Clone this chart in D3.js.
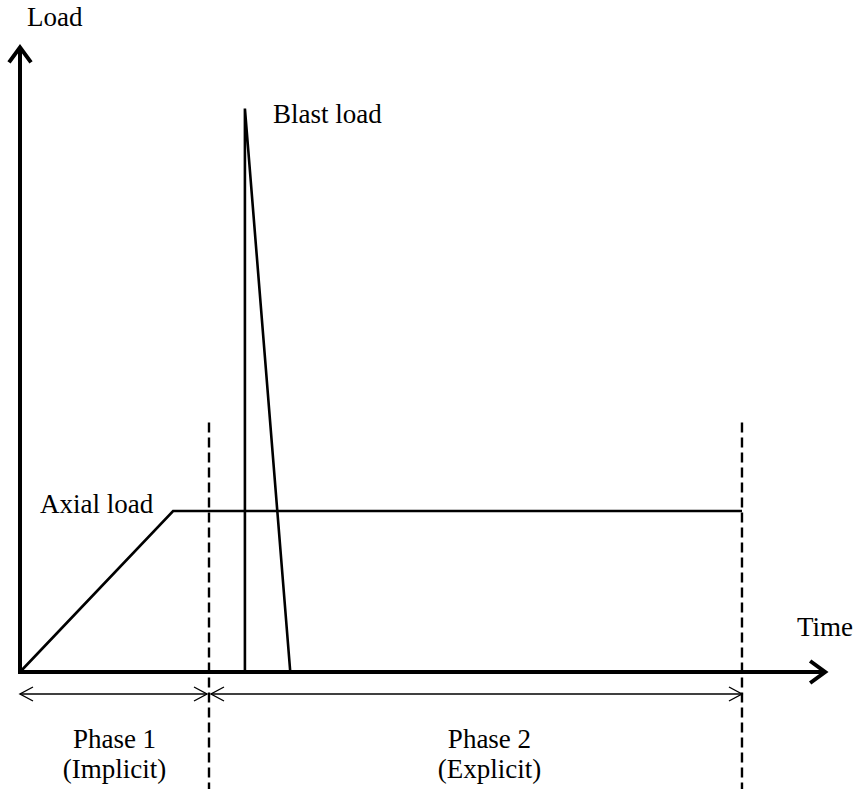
<!DOCTYPE html>
<html>
<head>
<meta charset="utf-8">
<script src="https://cdn.jsdelivr.net/npm/d3@7/dist/d3.min.js"></script>
<style>
  html, body { margin: 0; padding: 0; background: #fff; }
  svg { display: block; }
</style>
</head>
<body>
<script>
// Loading history: time in normalised units (Phase 1 ends at t = 1), load in units of the axial load.
const axialTime = [0, 0.81, 3.82];
const axialLoad = [0, 1, 1];
const blastTime = [1.19, 1.19, 1.43];
const blastLoad = [0, 3.5, 0];
const phaseBounds = [0, 1, 3.82];           // start, Phase 1 / Phase 2 boundary, end
const phaseLabels = [["Phase 1", "(Implicit)"], ["Phase 2", "(Explicit)"]];
const timeMax = 4.26;
const loadMax = 3.88;
const dashTop = 1.55;
const dashBottom = -0.73;

const W = 858, H = 789;
const FONT = "'Liberation Serif', 'DejaVu Serif', 'Times New Roman', Times, serif";
const svg = d3.select("body").append("svg").attr("width", W).attr("height", H);

const x = d3.scaleLinear().domain([0, 1]).range([20, 209]);
const y = d3.scaleLinear().domain([0, 1]).range([672, 511]);

const line = d3.line().x(d => x(d[0])).y(d => y(d[1]));

// Axes with heavy chevron heads
svg.append("path")
  .attr("d", line([[0, loadMax], [0, 0], [timeMax, 0]]))
  .attr("fill", "none").attr("stroke", "#000").attr("stroke-width", 4)
  .attr("stroke-linejoin", "miter");
svg.append("path")
  .attr("d", `M${x(0) - 11},${y(loadMax) + 15} L${x(0)},${y(loadMax)} L${x(0) + 11},${y(loadMax) + 15}`)
  .attr("fill", "none").attr("stroke", "#000").attr("stroke-width", 4);
svg.append("path")
  .attr("d", `M${x(timeMax) - 15},${y(0) - 11} L${x(timeMax)},${y(0)} L${x(timeMax) - 15},${y(0) + 11}`)
  .attr("fill", "none").attr("stroke", "#000").attr("stroke-width", 4);

// Axial load (ramp then hold) and blast load (triangular pulse)
svg.append("path")
  .attr("d", line(axialTime.map((t, i) => [t, axialLoad[i]])))
  .attr("fill", "none").attr("stroke", "#000").attr("stroke-width", 2.6);
svg.append("path")
  .attr("d", line(blastTime.map((t, i) => [t, blastLoad[i]])))
  .attr("fill", "none").attr("stroke", "#000").attr("stroke-width", 2.6)
  .attr("stroke-linejoin", "miter");

// Phase boundaries
phaseBounds.slice(1).forEach(t => {
  svg.append("line")
    .attr("x1", x(t)).attr("x2", x(t))
    .attr("y1", y(dashTop)).attr("y2", y(dashBottom))
    .attr("stroke", "#000").attr("stroke-width", 2.4)
    .attr("stroke-dasharray", "10,5");
});

// Phase span arrows
const arrowY = 694;
const head = (px, dir) => `M${px + dir * 13},${arrowY - 7} L${px},${arrowY} L${px + dir * 13},${arrowY + 7}`;
const text = (px, py, s, anchor) => svg.append("text")
  .attr("x", px).attr("y", py)
  .attr("text-anchor", anchor || "start")
  .attr("font-family", FONT).attr("font-size", 27).attr("fill", "#000")
  .text(s);

for (let i = 0; i < phaseLabels.length; i++) {
  const a = x(phaseBounds[i]) + (i === 0 ? 0 : 2), b = x(phaseBounds[i + 1]) - (i === 0 ? 2 : 0);
  svg.append("line").attr("x1", a).attr("x2", b).attr("y1", arrowY).attr("y2", arrowY)
    .attr("stroke", "#000").attr("stroke-width", 1.4);
  svg.append("path").attr("d", head(a, 1)).attr("fill", "none").attr("stroke", "#000").attr("stroke-width", 1.4);
  svg.append("path").attr("d", head(b, -1)).attr("fill", "none").attr("stroke", "#000").attr("stroke-width", 1.4);

  const cx = (x(phaseBounds[i]) + x(phaseBounds[i + 1])) / 2 + (i === 0 ? 0 : 14);
  text(cx, 748, phaseLabels[i][0], "middle");
  text(cx, 778, phaseLabels[i][1], "middle");
}

// Labels
text(27, 26, "Load");
text(797, 636, "Time");
text(273, 123, "Blast load");
text(40, 513, "Axial load");
</script>
</body>
</html>
